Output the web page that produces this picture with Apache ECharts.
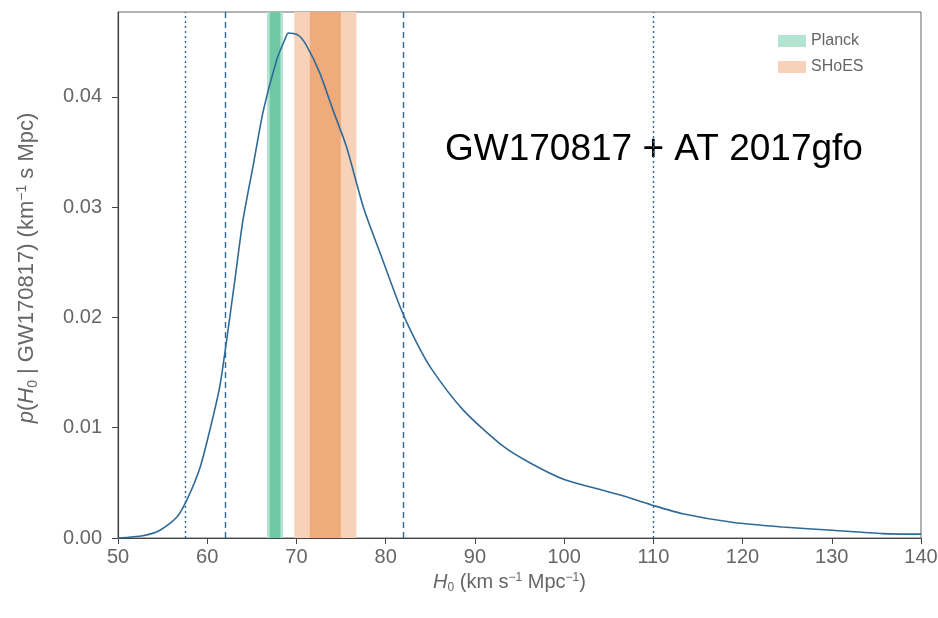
<!DOCTYPE html>
<html>
<head>
<meta charset="utf-8">
<script src="https://cdn.jsdelivr.net/npm/echarts@6/dist/echarts.min.js"></script>
<style>
html,body{margin:0;padding:0;background:#fff;}
#chart{width:938px;height:618px;}
</style>
</head>
<body>
<div id="chart"></div>
<script>
// H0 values (km s^-1 Mpc^-1) and posterior density
const h0 = [50, 52.8, 54.7, 56.6, 57.8, 59.2, 60.3, 61.4, 62.1, 63.1, 64.0, 65.2, 66.3, 67.8, 68.7, 69.1, 70.2, 71.1, 72.6, 74.1, 75.6, 77.5, 79.4, 81.6, 83.1, 85.0, 88.7, 93.2, 96.2, 100, 104, 106.3, 109.8, 113.3, 119, 124.5, 130.1, 135.7, 140];
const density = [0, 0.0002, 0.0007, 0.0019, 0.0036, 0.0064, 0.0098, 0.0137, 0.0175, 0.0234, 0.0288, 0.0340, 0.0388, 0.0434, 0.0452, 0.0458, 0.0456, 0.0447, 0.0422, 0.0388, 0.0355, 0.0300, 0.0258, 0.0210, 0.0183, 0.0155, 0.0116, 0.0083, 0.0068, 0.0053, 0.0044, 0.0039, 0.0030, 0.0022, 0.0014, 0.0010, 0.0007, 0.0004, 0.00035];
// Credible interval lines
const dottedLines = [57.5, 110];
const dashedLines = [62, 82];
// Bands: [inner low, inner high], [outer low, outer high]
const planckInner = [67.0, 68.2];
const planckOuter = [66.7, 68.5];
const shoesInner = [71.5, 74.98];
const shoesOuter = [69.76, 76.72];
const xTicks = [50, 60, 70, 80, 90, 100, 110, 120, 130, 140];
const yTicks = [0, 0.01, 0.02, 0.03, 0.04];
const annotation = 'GW170817 + AT 2017gfo';

const lineColor = '#2f6a96';
const txt = '#666';
const font = 'Liberation Sans, Arial, sans-serif';

const chart = echarts.init(document.getElementById('chart'));
const curve = h0.map((x, i) => [x, density[i]]);

const vlines = [];
dottedLines.forEach(v => vlines.push({xAxis: v, lineStyle: {type: [2, 3], color: lineColor, width: 1.4}}));
dashedLines.forEach(v => vlines.push({xAxis: v, lineStyle: {type: [6, 4], color: lineColor, width: 1.4}}));

function rich(fs) {
  return {
    i: {fontStyle: 'italic', fontSize: fs, color: txt, fontFamily: font},
    sub: {fontSize: Math.round(fs * 0.62), color: txt, padding: [Math.round(fs * 0.55), 0, 0, 0], fontFamily: font},
    sup: {fontSize: Math.round(fs * 0.62), color: txt, padding: [0, 0, Math.round(fs * 0.45), 0], fontFamily: font}
  };
}

chart.setOption({
  animation: false,
  backgroundColor: '#fff',
  grid: {left: 118, right: 17, top: 12, bottom: 80, show: true, borderColor: '#666', borderWidth: 1, outerBoundsMode: 'none', containLabel: false},
  legend: {
    left: 773, top: 28, orient: 'vertical', itemWidth: 28, itemHeight: 12, itemGap: 10,
    icon: 'rect',
    textStyle: {color: txt, fontSize: 16, fontFamily: font},
    data: ['Planck', 'SHoES']
  },
  xAxis: {
    type: 'value', min: 50, max: 140, interval: 10,
    name: '{i|H}{sub|0} (km s{sup|−1} Mpc{sup|−1})',
    nameLocation: 'middle', nameGap: 31,
    nameTextStyle: {color: txt, fontSize: 20, fontFamily: font, rich: rich(20), padding: [0, 20, 0, 0]},
    axisLine: {lineStyle: {color: '#444', width: 1.2}},
    axisTick: {show: true, length: 6, lineStyle: {color: '#444'}, customValues: xTicks},
    axisLabel: {color: txt, fontSize: 20, fontFamily: font, margin: 9, customValues: xTicks},
    splitLine: {show: false}
  },
  yAxis: {
    type: 'value', min: 0, max: 0.0477, interval: 0.01,
    name: '{i|p}({i|H}{sub|0} | GW170817) (km{sup|−1} s Mpc)',
    nameLocation: 'middle', nameGap: 78, nameRotate: 90,
    nameTextStyle: {color: txt, fontSize: 22, fontFamily: font, rich: rich(22), padding: [0, 0, 0, 14]},
    axisLine: {show: true, lineStyle: {color: '#444', width: 1.2}},
    axisTick: {show: true, length: 6, lineStyle: {color: '#444'}, customValues: yTicks},
    axisLabel: {color: txt, fontSize: 20, fontFamily: font, margin: 16, customValues: yTicks,
      formatter: v => v.toFixed(2)},
    splitLine: {show: false}
  },
  series: [
    {
      name: 'Planck', type: 'line', data: [], color: '#b3e3d1',
      itemStyle: {color: '#b3e3d1'},
      markArea: {
        silent: true,
        data: [
          [{xAxis: planckOuter[0], itemStyle: {color: '#b3e3d1'}}, {xAxis: planckOuter[1]}],
          [{xAxis: planckInner[0], itemStyle: {color: '#6fc9a4'}}, {xAxis: planckInner[1]}]
        ]
      }
    },
    {
      name: 'SHoES', type: 'line', data: [], color: '#f8d2b8',
      itemStyle: {color: '#f8d2b8'},
      markArea: {
        silent: true,
        data: [
          [{xAxis: shoesOuter[0], itemStyle: {color: '#f8d2b8'}}, {xAxis: shoesOuter[1]}],
          [{xAxis: shoesInner[0], itemStyle: {color: '#efab7c'}}, {xAxis: shoesInner[1]}]
        ]
      }
    },
    {
      name: 'posterior', type: 'line', data: curve, smooth: 0.25, symbol: 'none',
      lineStyle: {color: lineColor, width: 1.6}, z: 5,
      markLine: {silent: true, symbol: 'none', label: {show: false}, data: vlines}
    }
  ],
  graphic: [{
    type: 'text', left: 445, top: 131,
    style: {text: annotation, fill: '#000', fontSize: 37, fontFamily: font}
  }]
});
</script>
</body>
</html>
